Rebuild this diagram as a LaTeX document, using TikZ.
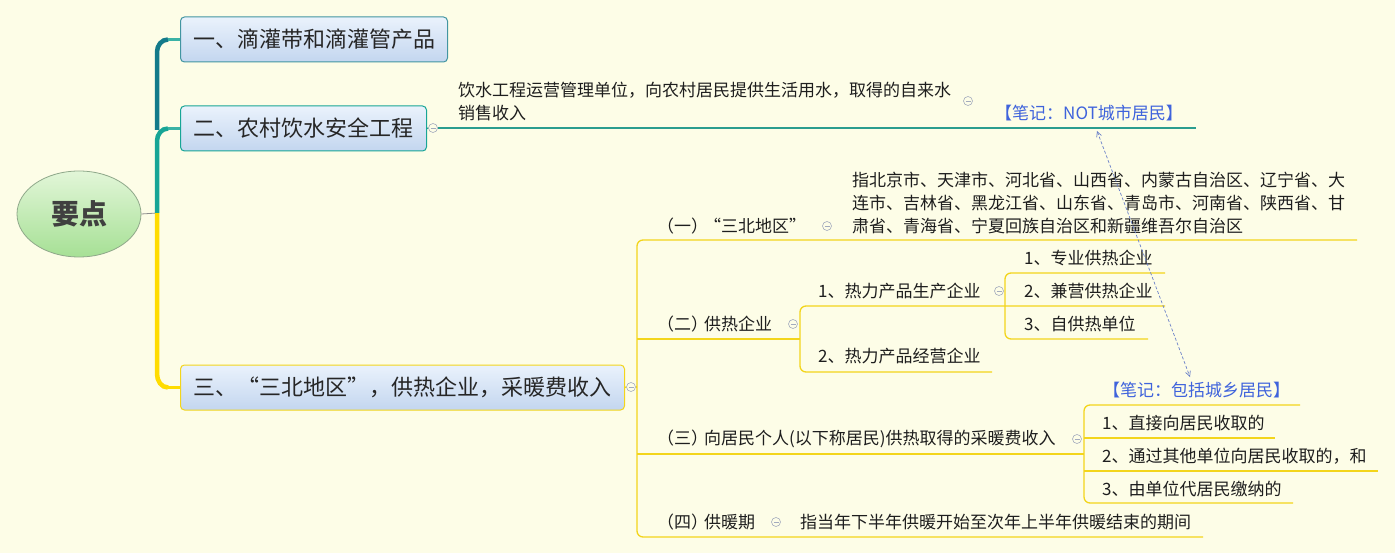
\documentclass[tikz,border=0pt]{standalone}
\usepackage{fontspec}
\newfontfamily\cjk{Noto Sans CJK SC}
\usetikzlibrary{shapes.geometric,arrows.meta}
\definecolor{bg}{HTML}{FDFDE7}
\definecolor{txtc}{HTML}{1E1E1E}
\definecolor{boxtxt}{HTML}{262626}
\definecolor{notec}{HTML}{3F63DC}
\definecolor{darkteal}{HTML}{137A8A}
\definecolor{teal}{HTML}{17A596}
\definecolor{trunkyel}{HTML}{FFDC00}
\definecolor{tealline}{HTML}{2A9D8F}
\definecolor{yelline}{HTML}{F3D51B}
\definecolor{boxtop}{HTML}{EAF2FC}
\definecolor{boxbot}{HTML}{C3D6EF}
\definecolor{rootop}{HTML}{E2F6D8}
\definecolor{rootbot}{HTML}{A6E095}
\definecolor{rootdraw}{HTML}{8FA88A}
\definecolor{colc}{HTML}{A3ABBE}
\definecolor{dashc}{HTML}{6A80C8}
\begin{document}
\begin{tikzpicture}[x=1pt,y=-1pt,
  txt/.style={anchor=west, inner sep=0pt, font=\cjk\fontsize{17}{23}\selectfont, text=txtc, align=left},
  notetxt/.style={txt, text=notec},
  topbox/.style={draw, rounded corners=4pt, line width=1pt, top color=boxtop, bottom color=boxbot,
    minimum height=45pt, anchor=west, inner sep=0pt, font=\cjk\fontsize{22}{26}\selectfont, text=boxtxt},
  collapse/.style={circle, draw=colc, fill=bg, minimum size=9pt, inner sep=0pt, line width=0.6pt,
    path picture={\draw[colc, line width=0.6pt] ([xshift=-2.5pt]path picture bounding box.center) -- ([xshift=2.5pt]path picture bounding box.center);}},
  yl/.style={draw=yelline, line width=1.3pt},
  tl/.style={draw=tealline, line width=1.2pt}
]
\fill[bg] (0,0) rectangle (1395,553);
\useasboundingbox (0,0) rectangle (1395,553);

% root
\node[ellipse, draw=rootdraw, line width=0.8pt, top color=rootop, bottom color=rootbot,
  minimum width=124pt, minimum height=86pt, inner sep=0pt,
  font=\cjk\bfseries\fontsize{28}{30}\selectfont, text=black!75] (root) at (79,214) {要点};

% top boxes
\node[topbox, draw=darkteal!80, minimum width=267pt] (b1) at (180,39.5) {一、滴灌带和滴灌管产品};
\node[topbox, draw=teal, minimum width=246pt] (b2) at (180,128.5) {二、农村饮水安全工程};
\node[topbox, draw=yelline, minimum width=444pt] (b3) at (180,387.5) {三、“三北地区”，供热企业，采暖费收入};

% trunk
\coordinate (tr) at (157,213);
\draw[black!45, line width=0.8pt] (root.east) -- (tr);
\draw[trunkyel, line width=4.5pt] (tr) -- (157,374) to[out=-90,in=180] (168,387.5);
\draw[trunkyel, line width=2.5pt] (168,387.5) -- (b3.west);
\draw[teal, line width=4.5pt] (tr) -- (157,141) to[out=90,in=180] (168,128.5);
\draw[teal!85, line width=2.2pt] (168,128.5) -- (b2.west);
\draw[darkteal, line width=4.5pt] (157,130) -- (157,52) to[out=90,in=180] (168,39.5);
\draw[teal!85, line width=2.2pt] (168,39.5) -- (b1.west);

% branch 2
\node[collapse] (c2) at (433,128) {};
\draw[tl] (b2.east) -- (c2.west);
\node[txt] (w1) at (458,101.5) {饮水工程运营管理单位，向农村居民提供生活用水，取得的自来水\\销售收入};
\node[collapse] (cw) at (968,101) {};
\node[notetxt] (n1) at (995,113) {【笔记：NOT城市居民】};
\coordinate (e2) at (1196,128);
\draw[tl] (c2.east) -- (e2);

% branch 3 main bracket
\node[collapse] (c3) at (631,387) {};
\draw[yl] (b3.east) -- (c3.west);
\draw[yl] (c3.east) -- (637,387);
\coordinate (k1) at (1357,240);
\coordinate (k4) at (1203,537);
\draw[yl, rounded corners=6pt] (k1) -- (637,240) -- (637,537) -- (k4);
\draw[yl] (637,339) -- (800,339);
\draw[yl] (637,454) -- (1084,454);

% (一)
\node[txt] (s1) at (657,226) {（一）\kern-4pt“三北地区”};
\node[collapse] (cs1) at (827,226) {};
\node[txt] (s1c) at (852,203) {指北京市、天津市、河北省、山西省、内蒙古自治区、辽宁省、大\\连市、吉林省、黑龙江省、山东省、青岛市、河南省、陕西省、甘\\肃省、青海省、宁夏回族自治区和新疆维吾尔自治区};

% (二)
\node[txt] (s2) at (657,324) {（二）\kern-4pt供热企业};
\node[collapse] (cs2) at (793,324) {};
\draw[yl, rounded corners=6pt] (1165,306) -- (800,306) -- (800,372) -- (992,372);
\node[txt] (p1) at (818,291) {1、热力产品生产企业};
\node[collapse] (cp1) at (999,291) {};
\node[txt] (p2) at (818,356) {2、热力产品经营企业};
\draw[yl, rounded corners=6pt] (1165,273) -- (1005,273) -- (1005,339) -- (1148,339);
\node[txt] (q1) at (1024,258) {1、专业供热企业};
\node[txt] (q2) at (1024,291) {2、兼营供热企业};
\node[txt] (q3) at (1024,324) {3、自供热单位};

% (三)
\node[txt] (s3) at (657,439) {（三）\kern-4pt向居民个人(以下称居民)供热取得的采暖费收入};
\node[collapse] (cs3) at (1077,439) {};
\draw[yl, rounded corners=6pt] (1300,405) -- (1084,405) -- (1084,503) -- (1293,503);
\draw[yl] (1084,438) -- (1275,438);
\draw[yl] (1084,471) -- (1378,471);
\node[notetxt] (n2) at (1103,390) {【笔记：包括城乡居民】};
\node[txt] (r1) at (1102,423) {1、直接向居民收取的};
\node[txt] (r2) at (1102,456) {2、通过其他单位向居民收取的，和};
\node[txt] (r3) at (1102,489) {3、由单位代居民缴纳的};

% (四)
\node[txt] (s4) at (657,522) {（四）\kern-4pt供暖期};
\node[collapse] (cs4) at (776,522) {};
\node[txt] (s4c) at (800,522) {指当年下半年供暖开始至次年上半年供暖结束的期间};

% relationship arrow
\coordinate (a1) at (1097,131);
\coordinate (a2) at (1190,377);
\draw[dashc, line width=0.7pt, dash pattern=on 3pt off 2pt,
  {Straight Barb[length=5pt,width=5pt]}-{Straight Barb[length=5pt,width=5pt]}] (a1) -- (a2);
\end{tikzpicture}
\end{document}
